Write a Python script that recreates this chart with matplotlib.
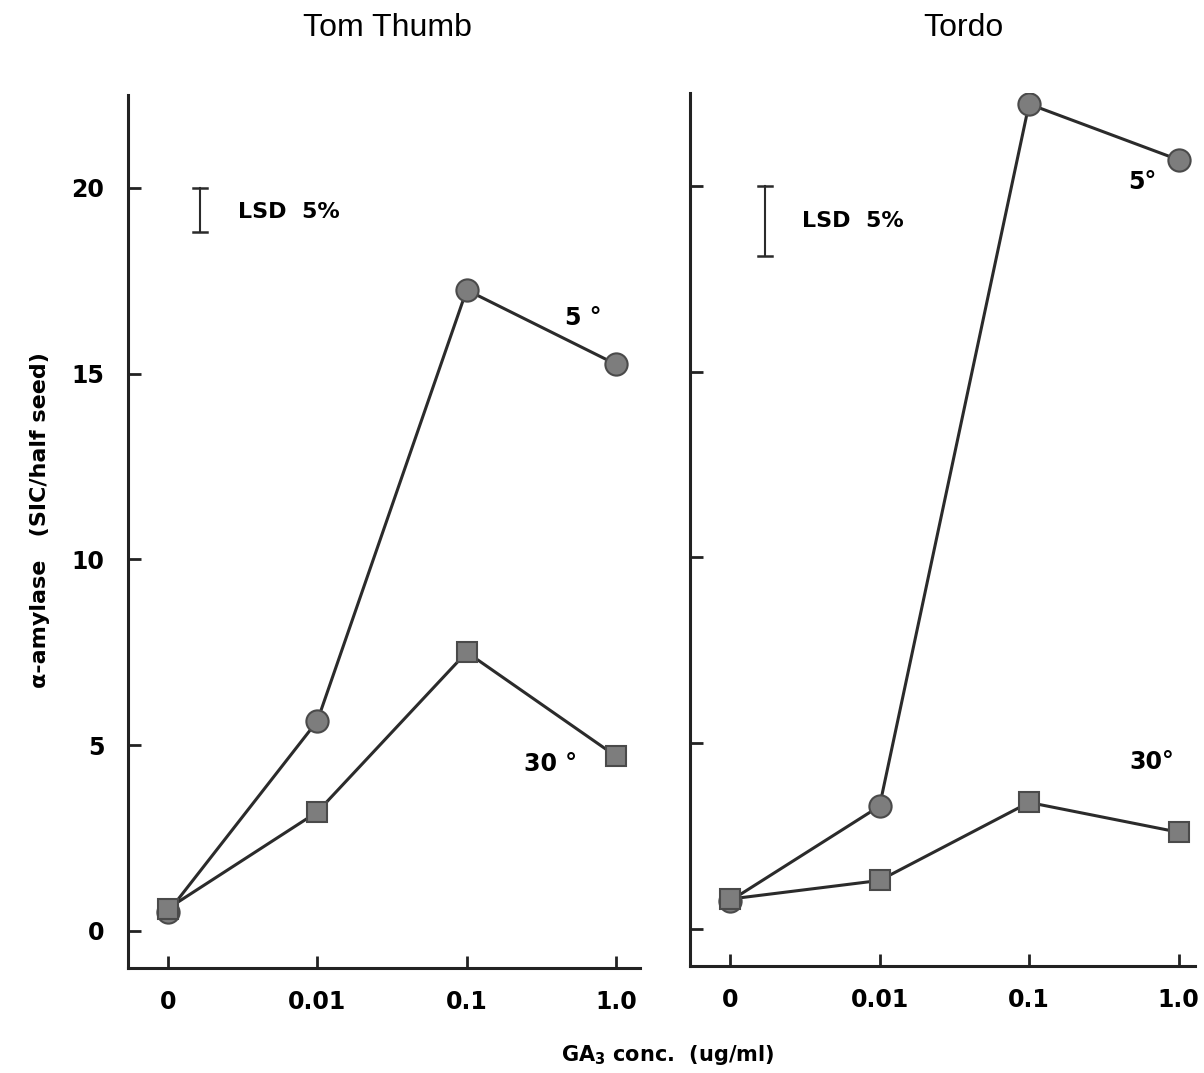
import numpy as np
import matplotlib.pyplot as plt

# GA3 concentration categories (ug/ml)
conc_labels = ['0', '0.01', '0.1', '1.0']

# alpha-amylase (SIC/half seed)
tom_thumb_5 = [0.5, 5.65, 17.25, 15.25]
tom_thumb_30 = [0.6, 3.2, 7.5, 4.7]
tordo_5 = [0.75, 3.3, 22.2, 20.7]
tordo_30 = [0.8, 1.3, 3.4, 2.6]

# LSD 5% bars (low, high)
lsd_tom_thumb = [18.8, 20.0]
lsd_tordo = [18.1, 20.0]

plt.rcParams['font.family'] = ['DejaVu Sans']
plt.rcParams['mathtext.fontset'] = 'dejavusans'

fig = plt.figure(figsize=(12.04, 10.73), dpi=100)
ax1 = fig.add_axes([0.1063, 0.0979, 0.4252, 0.8136])
ax2 = fig.add_axes([0.5731, 0.0998, 0.4194, 0.8136])

line_kw = dict(color='#2b2b2b', lw=2.2, zorder=2)
circ_kw = dict(marker='o', ms=16, mfc='#7d7d7d', mec='#4a4a4a', mew=1.5, ls='none', zorder=3)
sq_kw = dict(marker='s', ms=15, mfc='#7d7d7d', mec='#4a4a4a', mew=1.5, ls='none', zorder=4)

x = np.arange(len(conc_labels))


def draw_panel(ax, five, thirty, lsd, lsd_x, xmax, show_yticklabels):
    ax.plot(x, thirty, **line_kw)
    ax.plot(x, five, **line_kw)
    ax.plot(x, five, **circ_kw)
    ax.plot(x, thirty, **sq_kw)

    # LSD bar
    ax.plot([lsd_x, lsd_x], lsd, color='#2b2b2b', lw=1.5)
    for v in lsd:
        ax.plot([lsd_x - 0.045, lsd_x + 0.045], [v, v], color='#2b2b2b', lw=1.8)

    ax.set_xlim(-0.268, xmax)
    ax.set_ylim(-1.0, 22.5)
    ax.set_xticks(x)
    ax.set_xticklabels(conc_labels, fontsize=17, fontweight='bold')
    ax.set_yticks([0, 5, 10, 15, 20])
    if show_yticklabels:
        ax.set_yticklabels(['0', '5', '10', '15', '20'], fontsize=17, fontweight='bold')
    else:
        ax.set_yticklabels([])
    ax.tick_params(axis='both', direction='in', length=9, width=2, color='#222222')
    ax.tick_params(axis='x', pad=16)
    ax.tick_params(axis='y', pad=17)
    for s in ['top', 'right']:
        ax.spines[s].set_visible(False)
    for s in ['left', 'bottom']:
        ax.spines[s].set_linewidth(2.2)
        ax.spines[s].set_color('#222222')


draw_panel(ax1, tom_thumb_5, tom_thumb_30, lsd_tom_thumb, 0.215, 3.16, True)
draw_panel(ax2, tordo_5, tordo_30, lsd_tordo, 0.235, 3.11, False)

ax1.text(0.47, 19.35, 'LSD  5%', fontsize=16, fontweight='bold', va='center', ha='left')
ax2.text(0.48, 19.05, 'LSD  5%', fontsize=16, fontweight='bold', va='center', ha='left')

ax1.text(2.78, 16.5, '5 °', fontsize=17, fontweight='bold', ha='center', va='center')
ax1.text(2.56, 4.5, '30 °', fontsize=17, fontweight='bold', ha='center', va='center')
ax2.text(2.76, 20.1, '5°', fontsize=17, fontweight='bold', ha='center', va='center')
ax2.text(2.82, 4.5, '30°', fontsize=17, fontweight='bold', ha='center', va='center')

fig.text(387 / 1204, 1 - 28 / 1073, 'Tom Thumb', fontsize=23, ha='center', va='center',
         family='Liberation Sans')
fig.text(963 / 1204, 1 - 28 / 1073, 'Tordo', fontsize=23, ha='center', va='center',
         family='Liberation Sans')

fig.text(40 / 1204, 1 - 520 / 1073, 'α-amylase   (SIC/half seed)', fontsize=16,
         fontweight='bold', rotation=90, ha='center', va='center')
fig.text(668 / 1204, 1 - 1055 / 1073, r'GA$_\mathbf{3}$ conc.  (ug/ml)', fontsize=15,
         fontweight='bold', ha='center', va='center')

fig.savefig('out.png', dpi=100)
